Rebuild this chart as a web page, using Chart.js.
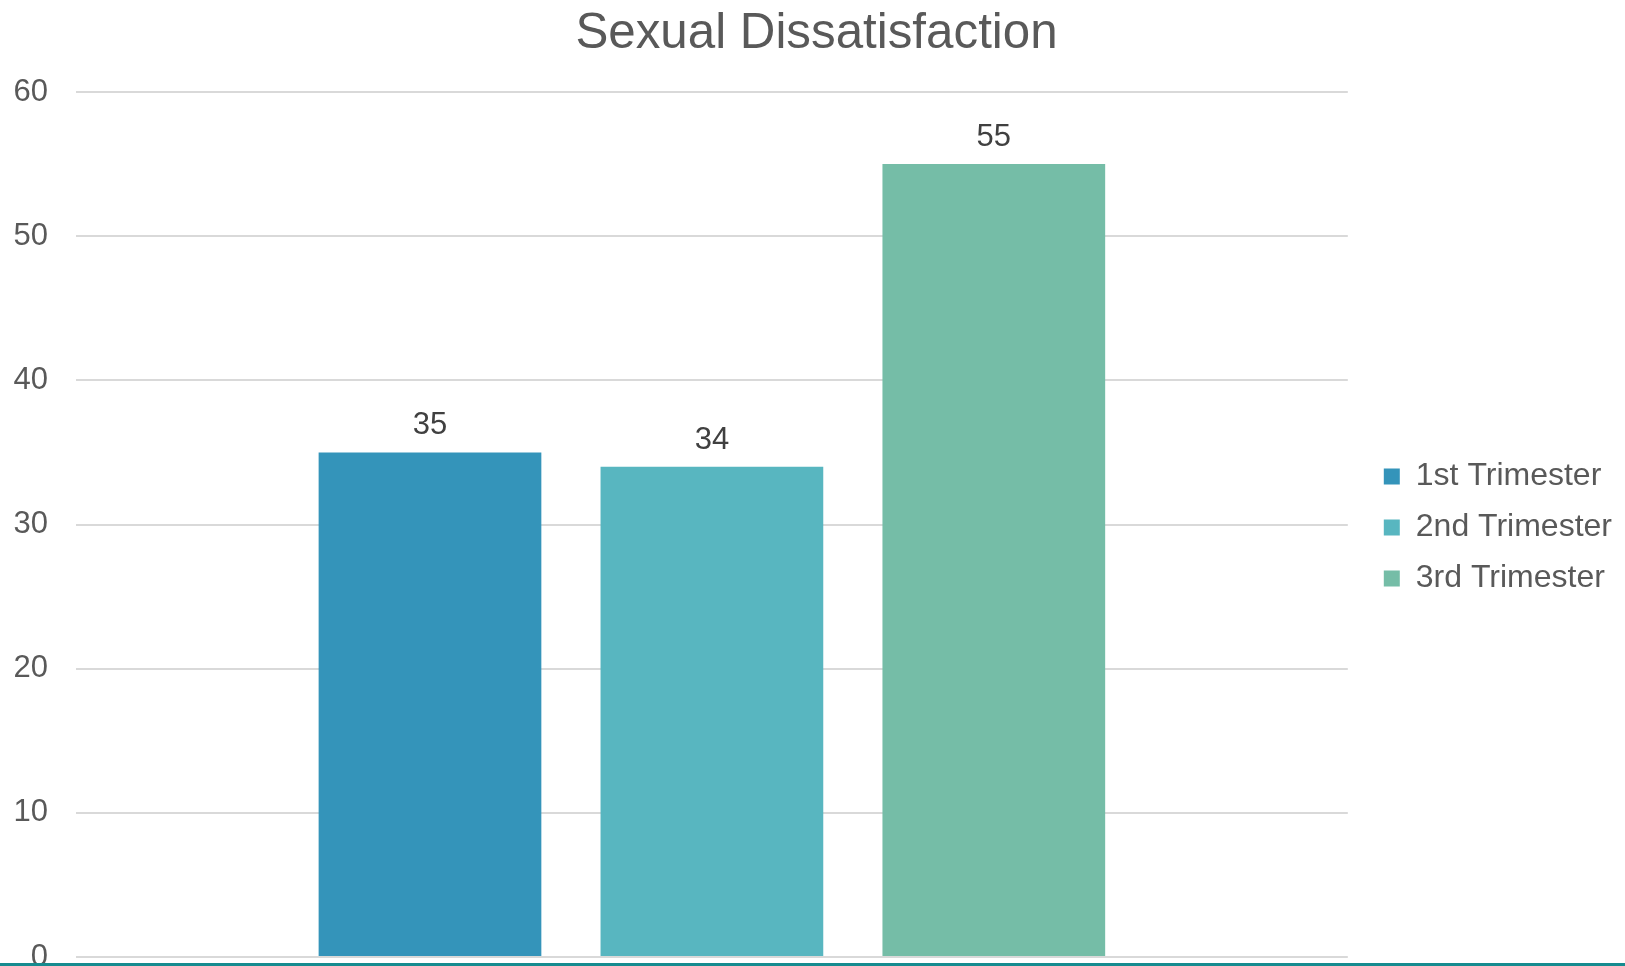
<!DOCTYPE html>
<html>
<head>
<meta charset="utf-8">
<script src="https://cdn.jsdelivr.net/npm/chart.js@4/dist/chart.umd.min.js"></script>
<style>
  html, body { margin: 0; padding: 0; background: #fff; overflow: hidden; }
  #wrap { position: relative; width: 1625px; height: 966px; overflow: hidden; }
  #box { position: absolute; left: 0; top: 0; width: 1625px; height: 1004px; }
  #title { position: absolute; left: 0; top: 3px; width: 1633px; text-align: center;
           font-family: "Liberation Sans", Arial, sans-serif; font-size: 49.3px; color: #595959; line-height: 56px; }
  #rule { position: absolute; left: 0; top: 963px; width: 1625px; height: 3px; background: #158B8F; }
</style>
</head>
<body>
<div id="wrap">
  <div id="box"><canvas id="c"></canvas></div>
  <div id="title">Sexual Dissatisfaction</div>
  <div id="rule"></div>
</div>
<script>
const categories = ['Sexual Dissatisfaction'];
const seriesNames = ['1st Trimester', '2nd Trimester', '3rd Trimester'];
const firstTrimester = [35];
const secondTrimester = [34];
const thirdTrimester = [55];
const seriesColors = ['#3494BA', '#58B6C0', '#75BDA7'];
const yTicks = [0, 10, 20, 30, 40, 50, 60];

const FONT = '"Liberation Sans", Arial, sans-serif';

const valueLabels = {
  id: 'valueLabels',
  afterDatasetsDraw(chart) {
    const ctx = chart.ctx;
    ctx.save();
    ctx.font = '31px ' + FONT;
    ctx.fillStyle = '#404040';
    ctx.textAlign = 'center';
    ctx.textBaseline = 'alphabetic';
    chart.data.datasets.forEach((ds, i) => {
      const meta = chart.getDatasetMeta(i);
      meta.data.forEach((bar, j) => {
        ctx.fillText(String(ds.data[j]), bar.x, bar.y - 18);
      });
    });
    ctx.restore();
  }
};

const seriesData = [firstTrimester, secondTrimester, thirdTrimester];

new Chart(document.getElementById('c'), {
  type: 'bar',
  data: {
    labels: categories,
    datasets: seriesNames.map((name, i) => ({
      label: name,
      data: seriesData[i],
      backgroundColor: seriesColors[i],
      borderWidth: 0,
      categoryPercentage: 0.665,
      barPercentage: 0.79
    }))
  },
  options: {
    responsive: true,
    maintainAspectRatio: false,
    animation: false,
    layout: { padding: { left: 12, top: 92, right: 3, bottom: 47 } },
    plugins: {
      title: { display: false },
      tooltip: { enabled: false },
      legend: {
        position: 'right',
        align: 'center',
        title: { display: true, text: '', font: { size: 1 }, padding: { top: 5, bottom: 0 } },
        labels: {
          boxWidth: 16,
          boxHeight: 16,
          padding: 19,
          color: '#595959',
          font: { family: FONT, size: 32 }
        }
      }
    },
    scales: {
      x: { display: false },
      y: {
        min: 0,
        max: 60,
        afterBuildTicks: (scale) => { scale.ticks = yTicks.map(v => ({ value: v })); },
        afterFit: (scale) => { scale.width = 64; },
        grid: { color: '#D9D9D9', lineWidth: 2, drawTicks: false },
        border: { display: false },
        ticks: { color: '#595959', padding: 28, font: { family: FONT, size: 31 } }
      },
      spacer: {
        position: 'right',
        display: true,
        grid: { display: false, drawTicks: false },
        border: { display: false },
        ticks: { display: false },
        afterFit: (scale) => { scale.width = 17; }
      }
    }
  },
  plugins: [valueLabels]
});
</script>
</body>
</html>
